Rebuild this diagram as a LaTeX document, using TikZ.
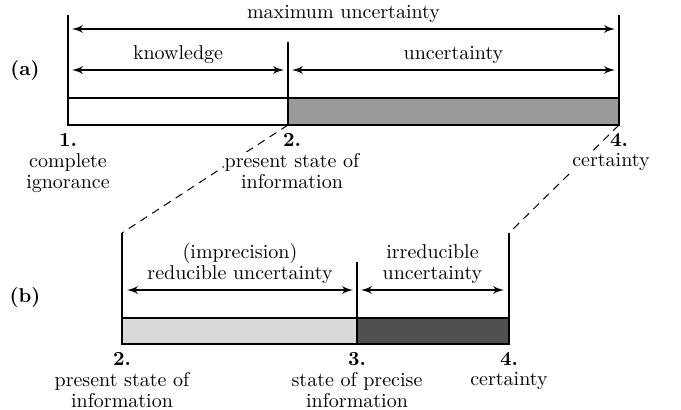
\documentclass[tikz,border=0pt]{standalone}
\usepgflibrary{arrows}
\definecolor{mittelgrau}{HTML}{9A9A9A}
\definecolor{hellgrau}{HTML}{D9D9D9}
\definecolor{dunkelgrau}{HTML}{505050}

\begin{document}
\begin{tikzpicture}[x=0.5pt, y=-0.5pt,
  balken/.style={line width=1.4pt},
  pfeil/.style={line width=0.9pt, latex'-latex'},
  strich/.style={line width=0.5pt, dash pattern=on 4pt off 3pt},
  nummer/.style={anchor=north, inner sep=1.5pt, yshift=-2.5pt,
    font=\fontsize{10}{10.5}\selectfont\bfseries},
  punkttext/.style={align=center, anchor=north, inner sep=0.5pt, yshift=-1pt,
    fill=white, font=\fontsize{10}{10.5}\selectfont},
  beschr/.style={align=center, above, inner sep=2.5pt,
    font=\fontsize{10}{10.5}\selectfont}
]

\useasboundingbox (0,0) rectangle (681,410);

% Balken (a)
\coordinate (A1o) at (68,15);
\coordinate (A1m) at (68,98);
\coordinate (A1) at (68,125);
\coordinate (A2o) at (288,42);
\coordinate (A2m) at (288,98);
\coordinate (A2) at (288,125);
\coordinate (A4o) at (619,15);
\coordinate (A4m) at (619,98);
\coordinate (A4) at (619,125);

\fill[mittelgrau] (A2m) rectangle (A4);
\draw[balken] (A1o) -- (A1) -- (A4) -- (A4o);
\draw[balken] (A1m) -- (A4m);
\draw[balken] (A2o) -- (A2);

% Pfeile (a)
\coordinate (PmaxL) at (72,29);
\coordinate (PmaxR) at (615,29);
\coordinate (PwisL) at (72,70);
\coordinate (PwisR) at (284,70);
\coordinate (PunsL) at (292,70);
\coordinate (PunsR) at (615,70);

\draw[pfeil] (PmaxL) -- node[beschr] (tmax) {maximum uncertainty} (PmaxR);
\draw[pfeil] (PwisL) -- node[beschr] (twis) {knowledge} (PwisR);
\draw[pfeil] (PunsL) -- node[beschr] (tuns) {uncertainty} (PunsR);

\node[font=\bfseries] (la) at (25,70) {(a)};

% Balken (b)
\coordinate (B2o) at (122,233);
\coordinate (B2m) at (122,318);
\coordinate (B2) at (122,344);
\coordinate (B3o) at (357,262);
\coordinate (B3m) at (357,318);
\coordinate (B3) at (357,344);
\coordinate (B4o) at (509,233);
\coordinate (B4m) at (509,318);
\coordinate (B4) at (509,344);

\fill[hellgrau] (B2m) rectangle (B3);
\fill[dunkelgrau] (B3m) rectangle (B4);
\draw[balken] (B2o) -- (B2) -- (B4) -- (B4o);
\draw[balken] (B2m) -- (B4m);
\draw[balken] (B3o) -- (B3);

% Pfeile (b)
\coordinate (PredL) at (127,290);
\coordinate (PredR) at (353,290);
\coordinate (PirrL) at (361,290);
\coordinate (PirrR) at (504,290);

\draw[pfeil] (PredL) -- node[beschr] (tred) {(imprecision)\\reducible uncertainty} (PredR);
\draw[pfeil] (PirrL) -- node[beschr] (tirr) {irreducible\\uncertainty} (PirrR);

\node[font=\bfseries] (lb) at (25,297) {(b)};

% Verbindung
\draw[strich] (A2) -- (B2o);
\draw[strich] (A4) -- (B4o);

% Beschriftung der Punkte
\node[nummer] (n1a) at (A1) {1.};
\node[punkttext] (t1a) at (n1a.south) {complete\\ignorance};
\node[nummer] (n2a) at (292,125) {2.};
\node[punkttext] (t2a) at (n2a.south) {present state of\\information};
\node[nummer] (n4a) at (A4) {4.};
\node[punkttext] (t4a) at (611,0 |- n4a.south) {certainty};

\node[nummer] (n2b) at (B2) {2.};
\node[punkttext] (t2b) at (n2b.south) {present state of\\information};
\node[nummer] (n3b) at (B3) {3.};
\node[punkttext] (t3b) at (n3b.south) {state of precise\\information};
\node[nummer] (n4b) at (B4) {4.};
\node[punkttext] (t4b) at (n4b.south) {certainty};

\end{tikzpicture}
\end{document}
